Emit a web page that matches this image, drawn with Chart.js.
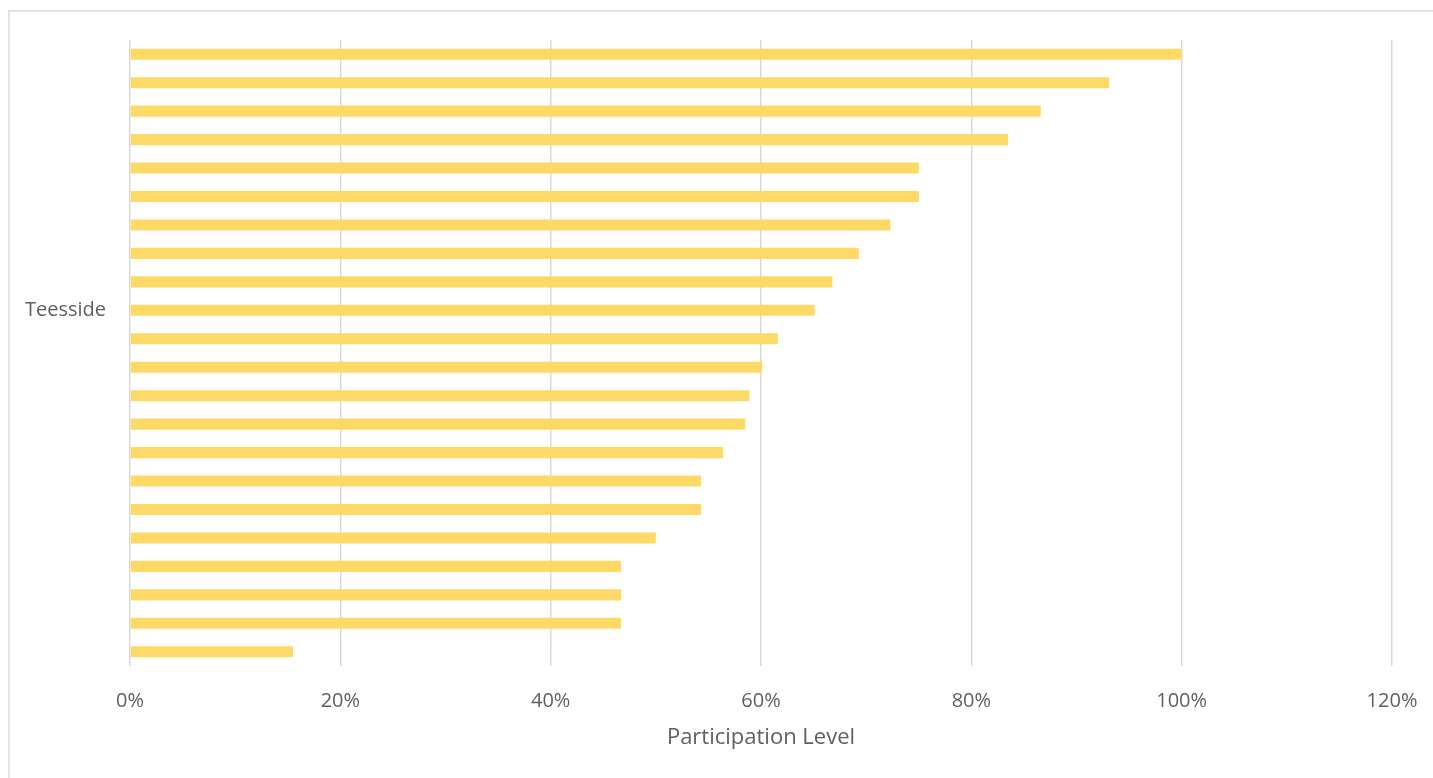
<!DOCTYPE html>
<html>
<head>
<meta charset="utf-8">
<script src="https://cdn.jsdelivr.net/npm/chart.js@4/dist/chart.umd.min.js"></script>
<style>
  html, body { margin: 0; padding: 0; background: #ffffff; overflow: hidden; }
  #frame { position: absolute; left: 8px; top: 10px; width: 1500px; height: 900px;
           border-left: 2px solid #e4e4e4; border-top: 2px solid #e4e4e4; box-sizing: border-box; }
  #wrap { position: absolute; left: 0; top: 0; width: 1433px; height: 778px; }
</style>
</head>
<body>
<div id="frame"></div>
<div id="wrap"><canvas id="c" width="1433" height="778"></canvas></div>
<script>
// Categories (only one labelled in the original)
const categories = ["", "", "", "", "", "", "", "", "", "Teesside", "", "", "", "", "", "", "", "", "", "", "", ""];
// Participation level (fraction)
const participation = [1.00, 0.931, 0.866, 0.835, 0.75, 0.75, 0.723, 0.693, 0.668, 0.651, 0.616, 0.601,
                       0.589, 0.585, 0.564, 0.543, 0.543, 0.50, 0.467, 0.467, 0.467, 0.155];
const xTicks = [0, 0.2, 0.4, 0.6, 0.8, 1.0, 1.2];
const xTitle = "Participation Level";

const FONT = "'Open Sans', 'DejaVu Sans', sans-serif";
const GREY = "#5f5f5f";

new Chart(document.getElementById('c'), {
  type: 'bar',
  data: {
    labels: categories,
    datasets: [{
      label: xTitle,
      data: participation,
      backgroundColor: '#FFD966',
      borderWidth: 0,
      barPercentage: 0.39,
      categoryPercentage: 1.0
    }]
  },
  options: {
    indexAxis: 'y',
    responsive: false,
    animation: false,
    layout: { padding: { left: 0, right: 41, top: 40, bottom: 0 } },
    plugins: { legend: { display: false }, tooltip: { enabled: true } },
    scales: {
      x: {
        min: 0, max: 1.2,
        afterBuildTicks: (s) => { s.ticks = xTicks.map(v => ({ value: v })); },
        afterFit: (s) => { s.height = 112; s.paddingLeft = 0; s.paddingRight = 0; },
        grid: { color: '#d9d9d9', lineWidth: 1.5, drawTicks: false },
        border: { display: false },
        ticks: {
          padding: 23,
          color: GREY,
          font: { family: FONT, size: 20 },
          callback: (v) => Math.round(v * 100) + '%'
        },
        title: {
          display: true, text: xTitle, color: GREY,
          font: { family: FONT, size: 22 },
          padding: { top: 0, bottom: 27 }
        }
      },
      y: {
        afterFit: (s) => { s.width = 130; },
        grid: { display: false, drawTicks: false },
        border: { display: false },
        ticks: {
          autoSkip: false,
          padding: 24,
          color: GREY,
          font: { family: FONT, size: 20 }
        }
      }
    }
  }
});
</script>
</body>
</html>
